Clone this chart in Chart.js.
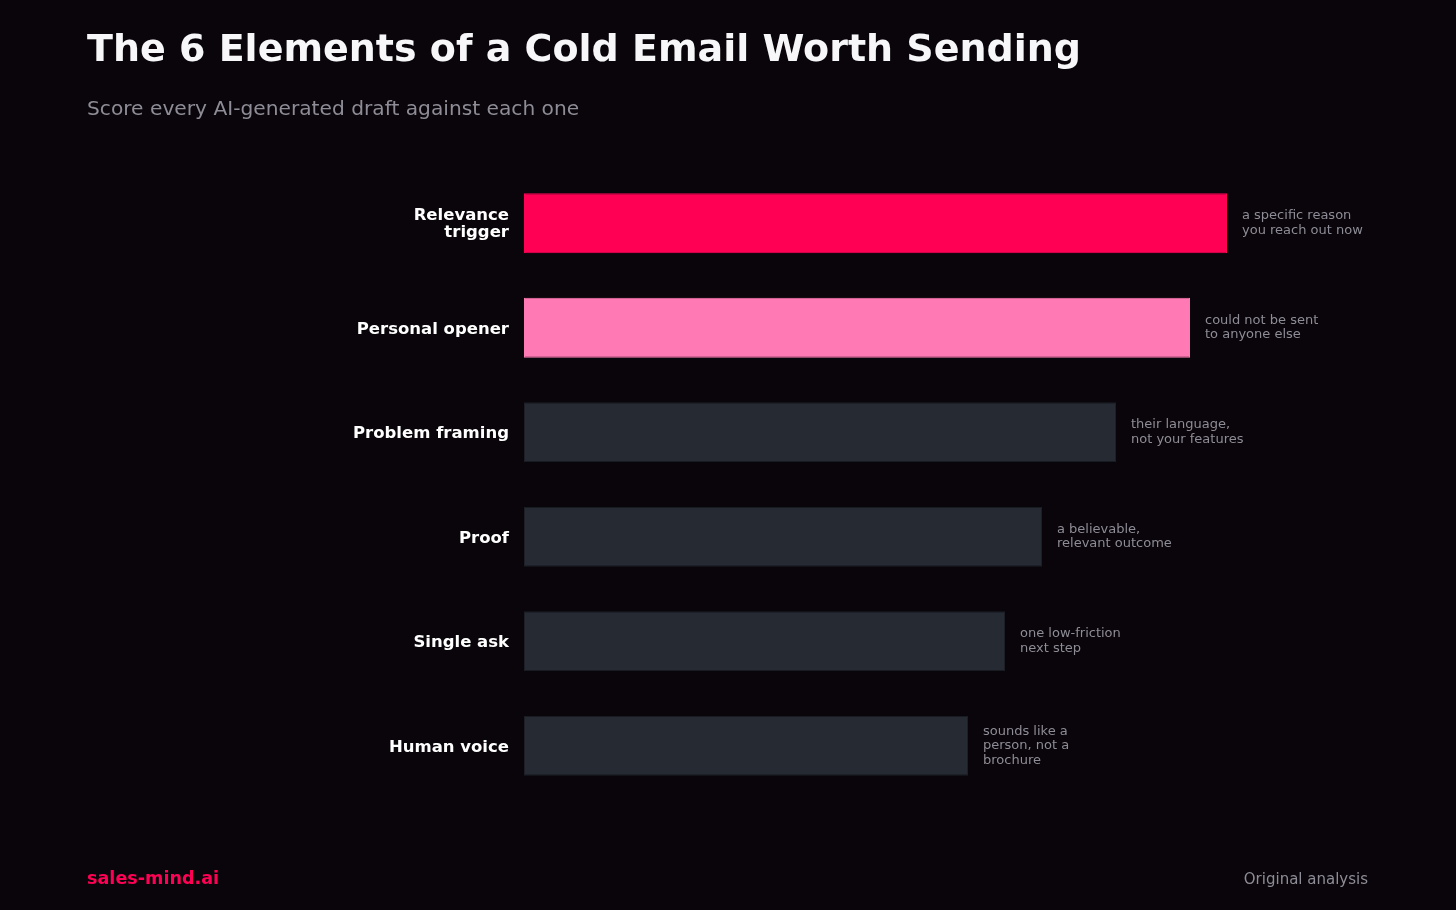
<!DOCTYPE html>
<html>
<head>
<meta charset="utf-8">
<script src="https://cdn.jsdelivr.net/npm/chart.js@4"></script>
<style>
  body { margin: 0; background: #09050a; font-family: 'DejaVu Sans', sans-serif; }
  #wrap { position: relative; width: 1456px; height: 910px; overflow: hidden; }
  #wrap canvas { position: absolute; left: 0; top: 0; }
  .title { position: absolute; left: 87px; top: 26px; color: #f7f7f9; font-size: 38px; font-weight: bold; }
  .sub { position: absolute; left: 87px; top: 96px; color: #8e8c96; font-size: 20.2px; }
  .brand { position: absolute; left: 87px; top: 868px; color: #ff0055; font-size: 17.6px; font-weight: bold; }
  .src { position: absolute; right: 88px; top: 870px; color: #8e8c96; font-size: 15px; }
  .cat { position: absolute; right: 947px; color: #ffffff; font-size: 16.5px; font-weight: bold; text-align: right; line-height: 17px; transform: translateY(-50%); white-space: nowrap; }
</style>
</head>
<body>
<div id="wrap">
  <canvas id="chart" width="1456" height="910"></canvas>
  <div class="title">The 6 Elements of a Cold Email Worth Sending</div>
  <div class="sub">Score every AI-generated draft against each one</div>
  <div class="brand">sales-mind.ai</div>
  <div class="src">Original analysis</div>
</div>
<script>
const categories = [['Relevance', 'trigger'], 'Personal opener', 'Problem framing', 'Proof', 'Single ask', 'Human voice'];
const scores = [95, 90, 80, 70, 65, 60];
const notes = [
    ['a specific reason', 'you reach out now'],
    ['could not be sent', 'to anyone else'],
    ['their language,', 'not your features'],
    ['a believable,', 'relevant outcome'],
    ['one low-friction', 'next step'],
    ['sounds like a', 'person, not a', 'brochure']
];
const barColors = ['#ff0055', '#ff7ab4', '#252a33', '#252a33', '#252a33', '#252a33'];

const noteLabels = {
    id: 'noteLabels',
    afterDatasetsDraw(chart) {
        const ctx = chart.ctx;
        const meta = chart.getDatasetMeta(0);
        ctx.save();
        ctx.fillStyle = '#8e8c96';
        ctx.font = '13px Verdana, "DejaVu Sans"';
        ctx.textAlign = 'left';
        ctx.textBaseline = 'middle';
        meta.data.forEach((bar, i) => {
            const lines = notes[i];
            const lh = 14.5;
            const y0 = bar.y - (lines.length - 1) * lh / 2;
            lines.forEach((t, j) => ctx.fillText(t, bar.x + 15, y0 + j * lh));
        });
        ctx.restore();
    }
};

const chart = new Chart(document.getElementById('chart'), {
    type: 'bar',
    data: {
        labels: categories,
        datasets: [{
            data: scores,
            backgroundColor: barColors,
            borderColor: barColors.map(c => c === '#252a33' ? '#1c1f26' : c),
            borderWidth: 1,
            borderSkipped: false,
            barPercentage: 0.574,
            categoryPercentage: 1
        }]
    },
    options: {
        indexAxis: 'y',
        responsive: false,
        animation: false,
        layout: { padding: { left: 0, top: 171, bottom: 112, right: 192 } },
        plugins: { legend: { display: false }, tooltip: { enabled: false } },
        scales: {
            x: { display: false, min: 0, max: 100 },
            y: {
                afterFit: scale => { scale.width = 524; },
                grid: { display: false, drawTicks: false },
                border: { display: false },
                ticks: { color: 'rgba(0,0,0,0)', padding: 15 }
            }
        }
    },
    plugins: [noteLabels]
});

// category labels as html text placed on the y scale
const yScale = chart.scales.y;
const wrap = document.getElementById('wrap');
categories.forEach((c, i) => {
    const el = document.createElement('div');
    el.className = 'cat';
    el.innerHTML = [].concat(c).join('<br>');
    el.style.top = yScale.getPixelForValue(i) + 'px';
    wrap.appendChild(el);
});
</script>
</body>
</html>
